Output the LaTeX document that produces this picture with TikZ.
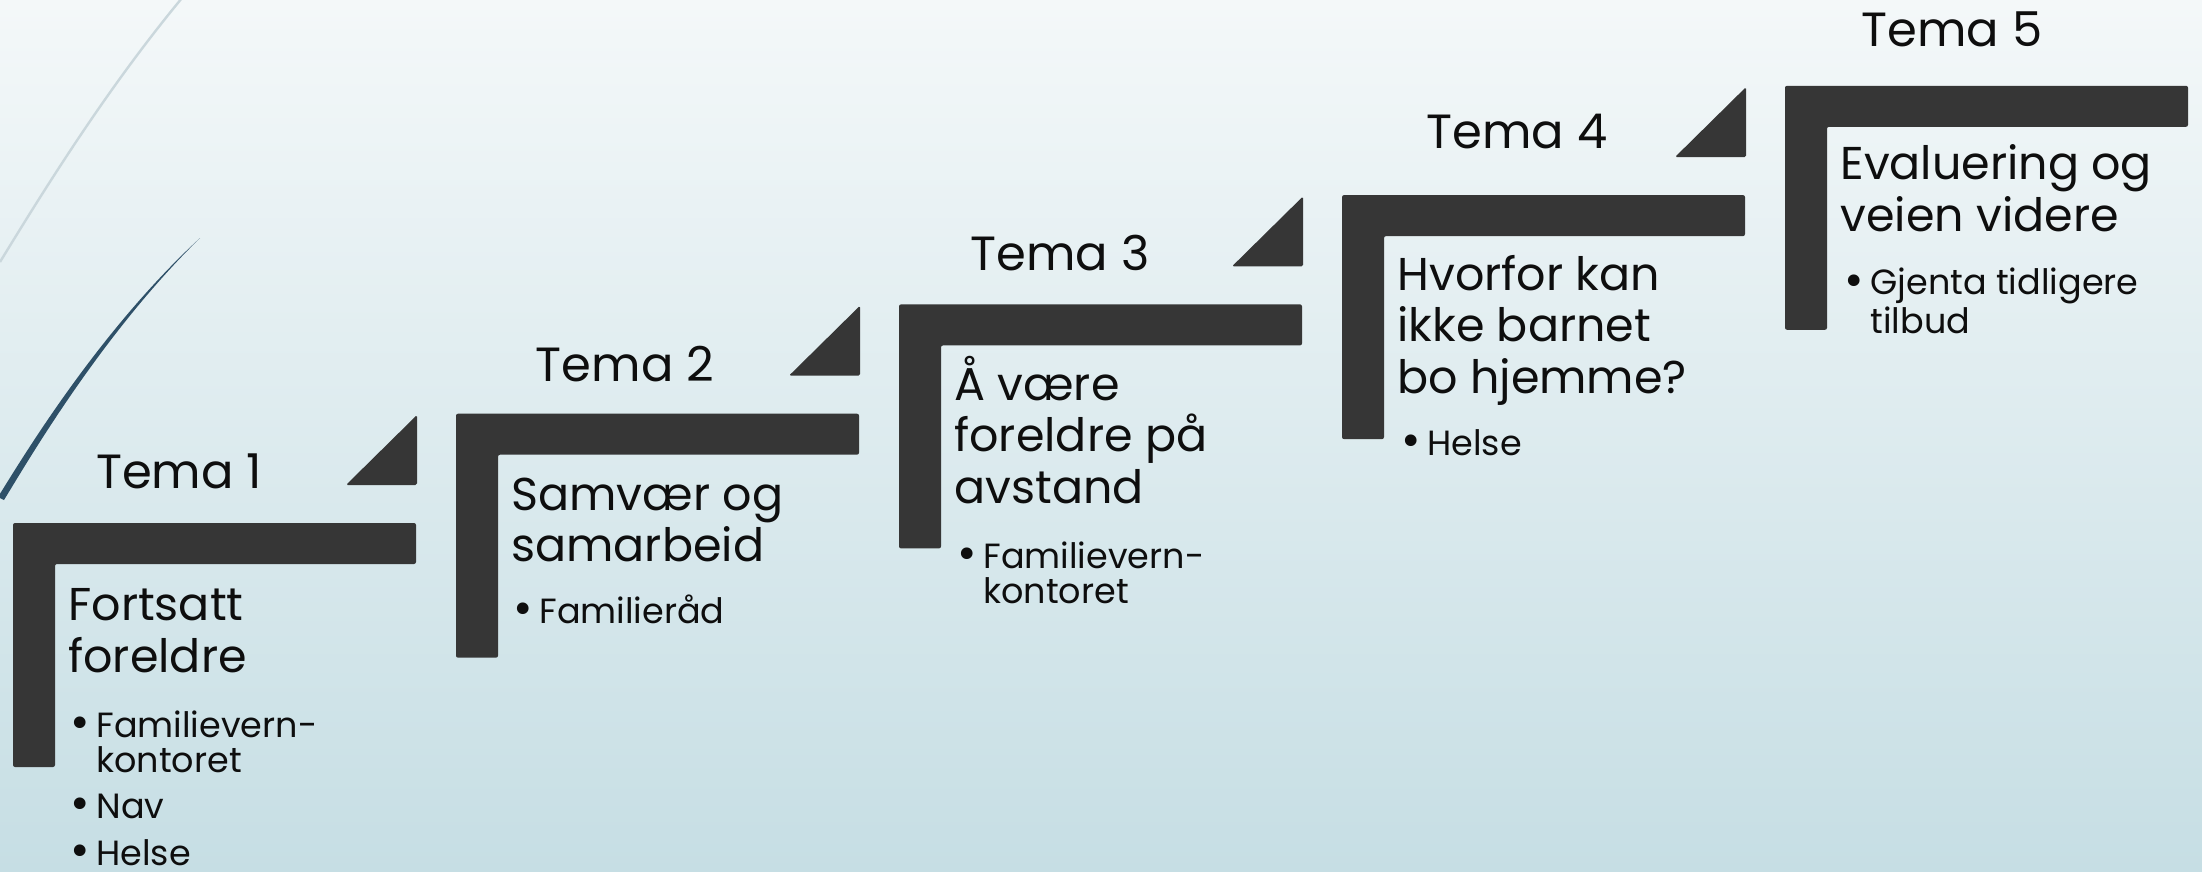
\documentclass[tikz,border=0pt]{standalone}
\usepackage{fontspec}
\setmainfont{Poppins}
\definecolor{bgtop}{RGB}{244,248,249}
\definecolor{bgbottom}{RGB}{198,222,228}
\definecolor{bargray}{RGB}{54,54,54}
\definecolor{inkblack}{RGB}{14,14,14}
\definecolor{arclight}{RGB}{202,215,220}
\definecolor{arcdark}{RGB}{46,80,104}
\newcommand\itembul{\makebox[13pt][l]{\raisebox{-0.04em}{\scalebox{1.35}{\textbullet}}}}
\newcommand\itemhang{\hspace*{13pt}}

\begin{document}
\begin{tikzpicture}[x=0.5pt,y=-0.5pt,
  stepbar/.style={fill=bargray, rounded corners=1pt},
  corner/.style={fill=bargray, rounded corners=0.8pt},
  tema/.style={font=\fontsize{24}{28}\selectfont, text=inkblack, anchor=base, inner sep=0pt},
  heading/.style={font=\fontsize{23}{25.75}\selectfont, text=inkblack, align=left, anchor=base west, inner sep=0pt},
  points/.style={font=\fontsize{17.5}{17.25}\selectfont, text=inkblack, align=left, anchor=base west, inner sep=0pt}]

  % background
  \shade[top color=bgtop, bottom color=bgbottom] (0,0) rectangle (2202,872);
  \useasboundingbox (0,0) rectangle (2202,872);
  \draw[arclight, line width=1.2pt] (0,262) .. controls (50,180) and (110,85) .. (182,-2);
  \fill[arcdark] (-2,497) .. controls (23,457) and (98,332) .. (200,238) .. controls (101,335) and (28,461) .. (4,500) -- cycle;

  % steps
  \foreach \i in {0,...,4} {
    \coordinate (s\i) at (13+443*\i, 523-109.3*\i);
    \fill[stepbar] (s\i) -- ++(403,0) -- ++(0,41) -- ++(-361,0) -- ++(0,203) -- ++(-42,0) -- cycle;
  }
  \foreach \i in {0,...,3}
    \fill[corner] (s\i) ++(333,-38) -- ++(71,0) -- ++(0,-70) -- cycle;

  \node[tema] (tema1) at (179,488) {Tema 1};
  \node[tema] (tema2) at (625,381.7) {Tema 2};
  \node[tema] (tema3) at (1060,270.7) {Tema 3};
  \node[tema] (tema4) at (1517,148.3) {Tema 4};
  \node[tema] (tema5) at (1952,46.7) {Tema 5};

  % base = last line
  \node[heading] (head1) at (68,672.2) {Fortsatt\\foreldre};
  \node[heading] (head2) at (511,561.5) {Samvær og\\samarbeid};
  \node[heading] (head3) at (954,503) {Å være\\foreldre på\\avstand};
  \node[heading] (head4) at (1397,393) {Hvorfor kan\\ikke barnet\\bo hjemme?};
  \node[heading] (head5) at (1840,231.5) {Evaluering og\\veien videre};

  \node[points] (list1) at (70,865) {\itembul Familievern-\\\itemhang kontoret\\[6pt]\itembul Nav\\[6pt]\itembul Helse};
  \node[points] (list2) at (513,623.3) {\itembul Familieråd};
  \node[points] (list3) at (957,603) {\itembul Familievern-\\\itemhang kontoret};
  \node[points] (list4) at (1401,455) {\itembul Helse};
  \node[points] (list5) at (1844,333) {\itembul Gjenta tidligere\\\itemhang tilbud};
\end{tikzpicture}
\end{document}
